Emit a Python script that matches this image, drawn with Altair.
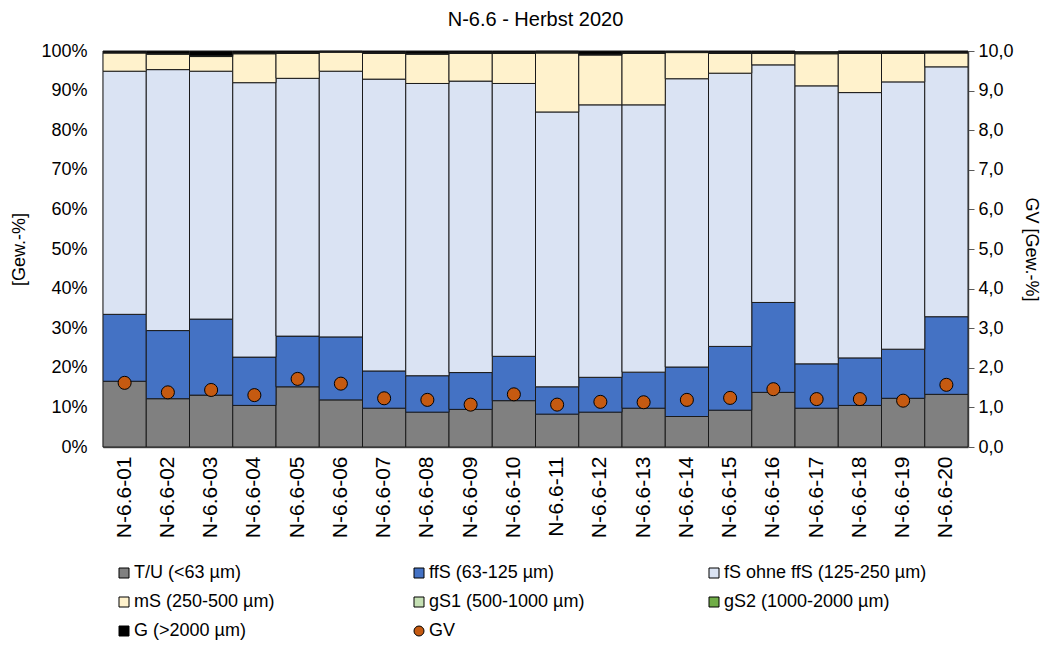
import altair as alt
import pandas as pd

FONT = "Liberation Sans"

samples = ["N-6.6-01", "N-6.6-02", "N-6.6-03", "N-6.6-04", "N-6.6-05",
           "N-6.6-06", "N-6.6-07", "N-6.6-08", "N-6.6-09", "N-6.6-10",
           "N-6.6-11", "N-6.6-12", "N-6.6-13", "N-6.6-14", "N-6.6-15",
           "N-6.6-16", "N-6.6-17", "N-6.6-18", "N-6.6-19", "N-6.6-20"]

components = ["T/U (<63 µm)", "ffS (63-125 µm)", "fS ohne ffS (125-250 µm)",
              "mS (250-500 µm)", "gS1 (500-1000 µm)", "gS2 (1000-2000 µm)",
              "G (>2000 µm)"]
comp_colors = ["#808080", "#4472C4", "#DAE3F3", "#FFF2CC", "#C5E0B4", "#70AD47", "#000000"]

tu = [16.6, 12.2, 13.1, 10.5, 15.2, 11.9, 9.8, 8.8, 9.5, 11.7,
      8.3, 8.8, 9.8, 7.7, 9.3, 13.8, 9.8, 10.5, 12.3, 13.3]
ffs = [16.9, 17.2, 19.2, 12.2, 12.8, 15.9, 9.4, 9.2, 9.3, 11.2,
       6.9, 8.8, 9.1, 12.5, 16.1, 22.7, 11.2, 12.0, 12.4, 19.6]
fs = [61.4, 65.9, 62.6, 69.3, 65.1, 67.1, 73.7, 73.8, 73.6, 68.9,
      69.4, 68.8, 67.5, 72.8, 69.0, 60.0, 70.2, 67.0, 67.5, 63.1]
ms = [4.6, 3.9, 3.7, 7.3, 6.3, 4.8, 6.5, 7.4, 7.0, 7.6,
      14.9, 12.6, 13.0, 6.6, 5.0, 2.9, 8.1, 9.9, 7.2, 3.5]
gs1 = [0.1, 0.1, 0.1, 0.1, 0.1, 0.1, 0.1, 0.1, 0.1, 0.1,
       0.1, 0.1, 0.1, 0.1, 0.1, 0.1, 0.1, 0.1, 0.1, 0.1]
gs2 = [0.1, 0.1, 0.1, 0.1, 0.1, 0.1, 0.1, 0.1, 0.1, 0.1,
       0.3, 0.1, 0.1, 0.1, 0.1, 0.1, 0.3, 0.1, 0.1, 0.1]
g = [0.3, 0.6, 1.2, 0.5, 0.4, 0.1, 0.4, 0.6, 0.4, 0.4,
     0.1, 0.8, 0.4, 0.2, 0.4, 0.4, 0.1, 0.4, 0.4, 0.3]

gv = [1.62, 1.38, 1.44, 1.31, 1.72, 1.60, 1.23, 1.19, 1.07, 1.33,
      1.07, 1.14, 1.13, 1.19, 1.24, 1.46, 1.21, 1.21, 1.17, 1.57]

series = [tu, ffs, fs, ms, gs1, gs2, g]

rows = []
for ci, (name, vals) in enumerate(zip(components, series)):
    for s, v in zip(samples, vals):
        rows.append({"sample": s, "component": name, "value": v, "order": ci})
bars_df = pd.DataFrame(rows)
gv_df = pd.DataFrame({"sample": samples, "gv": gv, "component": ["GV"] * len(samples)})

legend_domain = components + ["GV"]
legend_colors = comp_colors + ["#C55A11"]
legend_shapes = ["square"] * len(components) + ["circle"]

legend = alt.Legend(
    title=None, orient="none", legendX=12, legendY=513, columns=3,
    direction="horizontal",
    gridAlign="all", columnPadding=73, rowPadding=11, padding=0,
    symbolSize=100, symbolStrokeColor="black", symbolStrokeWidth=1,
    labelFont=FONT, labelFontSize=18, labelColor="#000000", labelOffset=1,
    labelLimit=400,
)

color = alt.Color("component:N",
                  scale=alt.Scale(domain=legend_domain, range=legend_colors),
                  legend=legend)

x = alt.X("sample:N", sort=samples,
          scale=alt.Scale(paddingInner=0, paddingOuter=0),
          axis=alt.Axis(title=None, labelAngle=-90, ticks=False,
                        labelFont=FONT, labelFontSize=21, labelColor="#000000",
                        labelPadding=9, domainColor="#595959", domainWidth=1.5))

bars = alt.Chart(bars_df).mark_bar(stroke="#1a1a1a", strokeWidth=1).encode(
    x=x,
    y=alt.Y("value:Q", stack="zero",
            scale=alt.Scale(domain=[0, 100], nice=False),
            axis=alt.Axis(title="[Gew.-%]", values=list(range(0, 101, 10)),
                          labelExpr="datum.value + '%'", ticks=False, grid=False,
                          labelFont=FONT, labelFontSize=18, labelColor="#000000",
                          labelPadding=16, titleFont=FONT, titleFontSize=18,
                          titleFontWeight="normal", titleColor="#000000",
                          titlePadding=12, domainColor="#595959", domainWidth=1.5)),
    color=color,
    order=alt.Order("order:Q", sort="ascending"),
)

points = alt.Chart(gv_df).mark_point(filled=True, size=170, stroke="black",
                                     strokeWidth=1, opacity=1).encode(
    x=alt.X("sample:N", sort=samples),
    y=alt.Y("gv:Q", scale=alt.Scale(domain=[0, 10], nice=False),
            axis=alt.Axis(orient="right", title="GV [Gew.-%]",
                          values=list(range(0, 11)),
                          labelExpr="replace(format(datum.value, '.1f'), '.', ',')",
                          ticks=True, tickSize=6, tickColor="#595959", grid=False,
                          labelFont=FONT, labelFontSize=18, labelColor="#000000",
                          labelPadding=4, titleFont=FONT, titleFontSize=18,
                          titleFontWeight="normal", titleColor="#000000",
                          titlePadding=8, domainColor="#595959", domainWidth=1.5)),
    color=color,
    shape=alt.Shape("component:N",
                    scale=alt.Scale(domain=legend_domain, range=legend_shapes),
                    legend=legend),
)

chart = alt.layer(bars, points).resolve_scale(y="independent").properties(
    width=865, height=396,
    title=alt.TitleParams("N-6.6 - Herbst 2020", font=FONT, fontSize=20,
                          fontWeight="normal", color="#000000", anchor="middle",
                          offset=12),
    autosize=alt.AutoSizeParams(type="none"),
    padding={"left": 95, "top": 43, "right": 74, "bottom": 195},
).configure_view(stroke=None).configure(background="white")

chart.save("out.html", embed_options={"renderer": "svg", "actions": False})
